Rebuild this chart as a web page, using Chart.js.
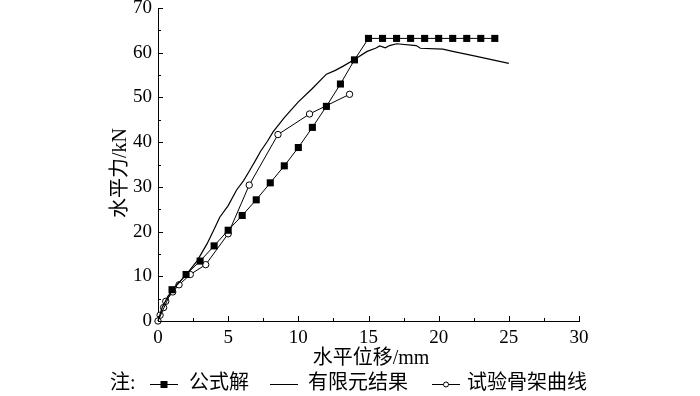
<!DOCTYPE html>
<html>
<head>
<meta charset="utf-8">
<script src="https://cdn.jsdelivr.net/npm/chart.js@4/dist/chart.umd.min.js"></script>
<style>
  html, body { margin: 0; padding: 0; background: #fff; }
  #wrap { width: 700px; height: 396px; }
</style>
</head>
<body>
<div id="wrap"><canvas id="chart" width="700" height="396"></canvas></div>
<script>
// -----------------------------
// DATA
// -----------------------------
const seriesNames = ["公式解", "有限元结果", "试验骨架曲线"];

// 公式解 - formula solution (filled squares)
const formulaX = [0, 1, 2, 3, 4, 5, 6, 7, 8, 9, 10, 11, 12, 13, 14, 15, 16, 17, 18, 19, 20, 21, 22, 23, 24];
const formulaY = [0, 7.0, 10.4, 13.4, 16.8, 20.3, 23.6, 27.1, 30.9, 34.7, 38.8, 43.3, 48.0, 53.0, 58.4,
                  63.2, 63.2, 63.2, 63.2, 63.2, 63.2, 63.2, 63.2, 63.2, 63.2];

// 有限元结果 - finite element result (plain line)
const femX = [0, 0.3, 0.7, 1.2, 2.0, 2.8, 3.5, 4.0, 4.4, 5.0, 5.6, 6.1, 6.5, 7.0, 7.3, 7.8, 8.2, 9.0,
              10.0, 11.0, 12.0, 12.6, 13.2, 14.0, 14.9, 15.5, 15.8, 16.2, 16.5, 17.0, 18.4, 18.7,
              20.3, 21.0, 22.7, 25.0];
const femY = [0, 3.0, 5.5, 7.5, 10.3, 13.5, 17.3, 20.5, 23.2, 25.8, 29.3, 31.4, 33.5, 36.2, 37.9, 40.2,
              42.3, 45.5, 49.0, 52.0, 55.2, 56.0, 57.0, 58.5, 60.3, 61.0, 61.5, 61.1, 61.6, 62.0,
              61.6, 61.0, 60.8, 60.3, 59.2, 57.6];

// 试验骨架曲线 - test skeleton curve (open circles)
const testX = [0, 0.15, 0.4, 0.55, 1.05, 1.5, 2.3, 3.4, 5.0, 6.5, 8.55, 10.8, 13.65];
const testY = [0, 1.3, 3.0, 4.4, 6.5, 8.1, 10.4, 12.6, 19.5, 30.4, 41.7, 46.3, 50.7];

// axis ranges / tick steps
const xRange = [0, 30];
const yRange = [0, 70];
const xStep = 2.5, xLabelStep = 5;
const yStep = 5, yLabelStep = 10;

const xTitle = "水平位移/mm";
const yTitle = "水平力/kN";
const notePrefix = "注:";

// -----------------------------
// HELPERS
// -----------------------------
const toPoints = (xs, ys) => xs.map((x, i) => ({ x: x, y: ys[i] }));
const serif = "'Liberation Serif', 'Noto Sans CJK SC', serif";

// inward ticks, axis titles and the bottom legend
const decorPlugin = {
  id: "decor",
  afterDraw(chart) {
    const { ctx, chartArea: a, scales: { x, y } } = chart;
    ctx.save();
    ctx.strokeStyle = "#000";
    ctx.lineWidth = 1;
    ctx.beginPath();
    x.ticks.forEach(t => {
      const px = Math.round(x.getPixelForValue(t.value)) + 0.5;
      const len = t.value % xLabelStep === 0 ? 5 : 3;
      ctx.moveTo(px, a.bottom);
      ctx.lineTo(px, a.bottom - len);
    });
    y.ticks.forEach(t => {
      const py = Math.round(y.getPixelForValue(t.value)) + 0.5;
      const len = t.value % yLabelStep === 0 ? 5 : 3;
      ctx.moveTo(a.left, py);
      ctx.lineTo(a.left + len, py);
    });
    ctx.stroke();

    // axis titles
    ctx.fillStyle = "#000";
    ctx.font = "20px " + serif;
    ctx.textAlign = "center";
    ctx.textBaseline = "middle";
    ctx.fillText(xTitle, 371, 359);
    ctx.save();
    ctx.translate(121, 173);
    ctx.rotate(-Math.PI / 2);
    ctx.fillText(yTitle, 0, 0);
    ctx.restore();

    // legend
    const ly = 384;
    ctx.textAlign = "left";
    ctx.fillText(notePrefix, 110, ly);
    const items = [
      { x0: 150, x1: 178, text: 189, marker: "rect" },
      { x0: 270, x1: 298, text: 308, marker: null },
      { x0: 432, x1: 460, text: 467, marker: "circle" }
    ];
    items.forEach((it, i) => {
      ctx.beginPath();
      ctx.moveTo(it.x0, ly + 0.5);
      ctx.lineTo(it.x1, ly + 0.5);
      ctx.stroke();
      const cx = (it.x0 + it.x1) / 2;
      if (it.marker === "rect") {
        ctx.fillRect(cx - 3.5, ly - 3, 7, 7);
      } else if (it.marker === "circle") {
        ctx.beginPath();
        ctx.arc(cx, ly + 0.5, 2.5, 0, Math.PI * 2);
        ctx.fillStyle = "#fff";
        ctx.fill();
        ctx.stroke();
        ctx.fillStyle = "#000";
      }
      ctx.fillText(seriesNames[i], it.text, ly);
    });
    ctx.restore();
  }
};

// -----------------------------
// CHART
// -----------------------------
new Chart(document.getElementById("chart").getContext("2d"), {
  type: "line",
  data: {
    datasets: [
      {
        label: seriesNames[0],
        data: toPoints(formulaX, formulaY),
        borderColor: "#000",
        borderWidth: 1,
        pointStyle: "rect",
        // no marker at the origin, as in the reference
        pointRadius: c => (c.dataIndex === 0 ? 0 : 5),
        pointBackgroundColor: "#000",
        pointBorderColor: "#000",
        pointBorderWidth: 0,
        tension: 0,
        clip: false
      },
      {
        label: seriesNames[1],
        data: toPoints(femX, femY),
        borderColor: "#000",
        borderWidth: 1.2,
        pointRadius: 0,
        tension: 0,
        clip: false
      },
      {
        label: seriesNames[2],
        data: toPoints(testX, testY),
        borderColor: "#000",
        borderWidth: 1,
        pointStyle: "circle",
        pointRadius: 3.2,
        pointBackgroundColor: "#fff",
        pointBorderColor: "#000",
        pointBorderWidth: 1,
        tension: 0,
        clip: false
      }
    ]
  },
  options: {
    responsive: false,
    animation: false,
    layout: { padding: { top: 8, right: 121, left: 0, bottom: 0 } },
    plugins: { legend: { display: false }, tooltip: { enabled: false } },
    scales: {
      x: {
        type: "linear",
        min: xRange[0],
        max: xRange[1],
        grid: { display: false, drawTicks: false, tickLength: 0 },
        border: { display: true, color: "#000", width: 1 },
        ticks: {
          stepSize: xStep,
          autoSkip: false,
          maxRotation: 0,
          padding: 6,
          color: "#000",
          font: { family: serif, size: 19 },
          callback: v => (v % xLabelStep === 0 ? v : "")
        },
        afterFit: s => { s.height = 75; s.paddingLeft = 0; s.paddingRight = 0; }
      },
      y: {
        min: yRange[0],
        max: yRange[1],
        grid: { display: false, drawTicks: false, tickLength: 0 },
        border: { display: true, color: "#000", width: 1 },
        ticks: {
          stepSize: yStep,
          autoSkip: false,
          padding: 6,
          color: "#000",
          font: { family: serif, size: 19 },
          callback: v => (v % yLabelStep === 0 ? v : "")
        },
        afterFit: s => { s.width = 158; s.paddingTop = 0; s.paddingBottom = 0; }
      }
    }
  },
  plugins: [decorPlugin]
});
</script>
</body>
</html>
